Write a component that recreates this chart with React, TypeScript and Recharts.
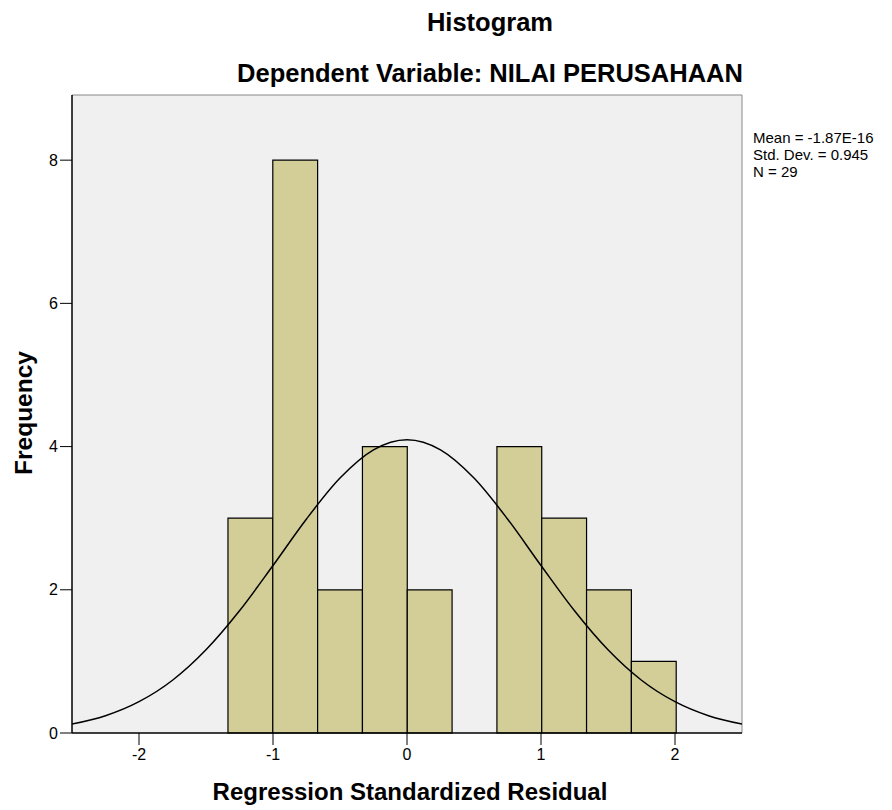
import {
  ComposedChart, Line, XAxis, YAxis, CartesianGrid, ReferenceArea, ReferenceLine,
} from 'recharts';

const FONT = 'Arial, "Liberation Sans", sans-serif';

// histogram bins (edges) and counts
const binStarts = [-1.336, -1.0015, -0.667, -0.3325, 0.002, 0.3365, 0.671, 1.0055, 1.34, 1.6745];
const binEnds = [-1.0015, -0.667, -0.3325, 0.002, 0.3365, 0.671, 1.0055, 1.34, 1.6745, 2.009];
const counts = [3, 8, 2, 4, 2, 0, 4, 3, 2, 1];

// normal curve
const curveX = [-2.5, -2.25, -2, -1.75, -1.5, -1.25, -1, -0.75, -0.5, -0.25, 0,
  0.25, 0.5, 0.75, 1, 1.25, 1.5, 1.75, 2, 2.25, 2.5];
const curveY = [0.124, 0.241, 0.437, 0.737, 1.162, 1.707, 2.339, 2.989, 3.56, 3.954, 4.095,
  3.954, 3.56, 2.989, 2.339, 1.707, 1.162, 0.737, 0.437, 0.241, 0.124];

const xTicks = [-2, -1, 0, 1, 2];
const yTicks = [0, 2, 4, 6, 8];
const statLines = ['Mean = -1.87E-16', 'Std. Dev. = 0.945', 'N = 29'];

const curve = curveX.map((x, i) => ({ x, y: curveY[i] }));

const X_DOMAIN: [number, number] = [-2.5, 2.5];
const Y_DOMAIN: [number, number] = [0, 8.91];

export default function App() {
  return (
    <div style={{ position: 'absolute', left: 0, top: 0, width: 892, height: 810, background: '#fff', fontFamily: FONT }}>
      <div style={{ position: 'absolute', left: 0, width: 980, top: 8, textAlign: 'center', fontSize: 25.5, fontWeight: 'bold' }}>
        Histogram
      </div>
      <div style={{ position: 'absolute', left: 0, width: 980, top: 59, textAlign: 'center', fontSize: 25.5, fontWeight: 'bold' }}>
        Dependent Variable: NILAI PERUSAHAAN
      </div>
      <div style={{ position: 'absolute', left: 753, top: 129, fontSize: 15, lineHeight: '17px', whiteSpace: 'nowrap' }}>
        {statLines.map((s) => <div key={s}>{s}</div>)}
      </div>
      <div
        style={{
          position: 'absolute', left: 24, top: 413, fontSize: 24.5, fontWeight: 'bold',
          transform: 'translate(-50%, -50%) rotate(-90deg)', whiteSpace: 'nowrap',
        }}
      >
        Frequency
      </div>
      <div style={{ position: 'absolute', left: 0, width: 820, top: 778, textAlign: 'center', fontSize: 24, fontWeight: 'bold' }}>
        Regression Standardized Residual
      </div>

      <ComposedChart
        width={892}
        height={810}
        data={curve}
        margin={{ top: 95, right: 150, left: 22, bottom: 47 }}
        style={{ position: 'absolute', left: 0, top: 0 }}
      >
        <CartesianGrid fill="#F0F0F0" horizontal={false} vertical={false} />
        <XAxis
          dataKey="x"
          type="number"
          domain={X_DOMAIN}
          ticks={xTicks}
          allowDataOverflow
          height={30}
          tick={{ fontSize: 16, fill: '#000', fontFamily: FONT }}
          tickSize={12}
          tickMargin={4}
          tickLine={{ stroke: '#000' }}
          axisLine={{ stroke: '#000', strokeWidth: 1.5 }}
        />
        <YAxis
          type="number"
          domain={Y_DOMAIN}
          ticks={yTicks}
          allowDataOverflow
          width={50}
          tick={{ fontSize: 16, fill: '#000', fontFamily: FONT }}
          tickSize={12}
          tickMargin={2}
          tickLine={{ stroke: '#000' }}
          axisLine={{ stroke: '#000', strokeWidth: 1.5 }}
        />
        <ReferenceLine y={Y_DOMAIN[1]} stroke="#888" />
        <ReferenceLine x={X_DOMAIN[1]} stroke="#888" />
        {counts.map((c, i) =>
          c > 0 ? (
            <ReferenceArea
              key={i}
              x1={binStarts[i]}
              x2={binEnds[i]}
              y1={0}
              y2={c}
              fill="#D3CE98"
              fillOpacity={1}
              stroke="#000"
              strokeWidth={1.2}
            />
          ) : null,
        )}
        <Line
          dataKey="y"
          type="monotone"
          stroke="#000"
          strokeWidth={1.5}
          dot={false}
          activeDot={false}
          isAnimationActive={false}
        />
      </ComposedChart>
    </div>
  );
}
